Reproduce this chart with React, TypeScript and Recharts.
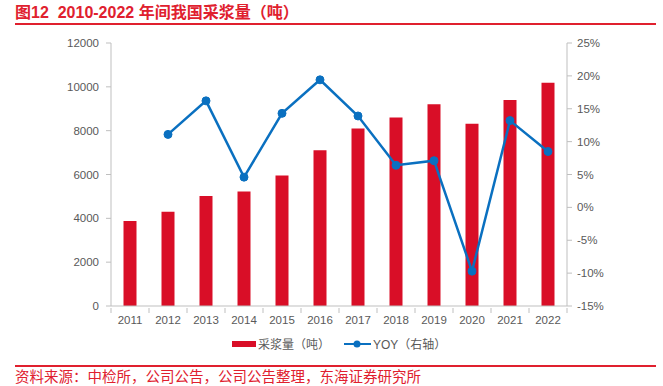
import React from "react";
import { ComposedChart, Bar, Line, XAxis, YAxis, Legend } from "recharts";

const years = ["2011", "2012", "2013", "2014", "2015", "2016", "2017", "2018", "2019", "2020", "2021", "2022"];
const volume = [3880, 4300, 5020, 5230, 5960, 7110, 8100, 8600, 9200, 8310, 9400, 10190];
const yoy: (number | null)[] = [null, 11.1, 16.2, 4.6, 14.3, 19.4, 13.9, 6.4, 7.1, -9.7, 13.2, 8.5];
const leftTicks = [0, 2000, 4000, 6000, 8000, 10000, 12000];
const rightTicks = [-15, -10, -5, 0, 5, 10, 15, 20, 25];
const title = "图12  2010-2022 年间我国采浆量（吨）";
const source = "资料来源：中检所，公司公告，公司公告整理，东海证券研究所";
const barName = "采浆量（吨）";
const lineName = "YOY（右轴）";

const data = years.map((y, i) => ({ year: y, volume: volume[i], yoy: yoy[i] }));

const RED = "#d90e27";
const BLUE = "#0a70c0";
const AXIS = "#bfbfbf";
const TEXT = "#595959";
const FONT = "'Liberation Sans', Arial, 'Noto Sans CJK SC', sans-serif";

const PLOT_LEFT = 111;
const PLOT_RIGHT = 567;
const BAND = (PLOT_RIGHT - PLOT_LEFT) / years.length;

const XTick = (props: any) => {
  const { x, y, payload, index } = props;
  const isLast = index === years.length - 1;
  return (
    <g>
      <line x1={x - BAND / 2} y1={y - 6} x2={x - BAND / 2} y2={y - 1} stroke={AXIS} />
      {isLast && <line x1={x + BAND / 2} y1={y - 6} x2={x + BAND / 2} y2={y - 1} stroke={AXIS} />}
      <text x={x} y={y + 10} textAnchor="middle" fill={TEXT} fontSize={11.5} fontFamily={FONT}>
        {payload.value}
      </text>
    </g>
  );
};

const LegendContent = () => (
  <svg width={663} height={20} style={{ display: "block" }}>
    <rect x={232} y={7} width={24} height={6} fill={RED} />
    <text x={258} y={14.5} fill={TEXT} fontSize={12} fontFamily={FONT}>{barName}</text>
    <line x1={344} y1={10} x2={371} y2={10} stroke={BLUE} strokeWidth={2} />
    <circle cx={357} cy={10} r={3.5} fill={BLUE} />
    <text x={373} y={14.5} fill={TEXT} fontSize={12} fontFamily={FONT}>{lineName}</text>
  </svg>
);

export default function App() {
  return (
    <div style={{ position: "absolute", left: 0, top: 0, width: 663, height: 386, background: "#fff", fontFamily: FONT, overflow: "hidden" }}>
      <div style={{ position: "absolute", left: 15, top: 3, fontSize: 16, lineHeight: "20px", fontWeight: "bold", color: "#e0202e", fontFamily: FONT, whiteSpace: "pre" }}>
        {title}
      </div>
      <div style={{ position: "absolute", left: 15, top: 23, width: 641, height: 2, background: "#e0202e" }} />
      <div style={{ position: "absolute", left: 0, top: 0 }}>
        <ComposedChart
          width={663}
          height={360}
          data={data}
          margin={{ top: 43, right: 0, left: 0, bottom: 24 }}
          barCategoryGap={12.5}
        >
          <XAxis
            dataKey="year"
            height={30}
            stroke={AXIS}
            tickLine={false}
            tick={<XTick />}
            interval={0}
          />
          <YAxis
            yAxisId="left"
            width={PLOT_LEFT}
            domain={[0, 12000]}
            ticks={leftTicks}
            stroke={AXIS}
            tickSize={5}
            tickMargin={7}
            tick={{ fill: TEXT, fontSize: 11.5, fontFamily: FONT }}
            interval={0}
          />
          <YAxis
            yAxisId="right"
            orientation="right"
            width={663 - PLOT_RIGHT}
            domain={[-15, 25]}
            ticks={rightTicks}
            stroke={AXIS}
            tickSize={5}
            tickMargin={5}
            tickFormatter={(v: number) => `${v}%`}
            tick={{ fill: TEXT, fontSize: 11.5, fontFamily: FONT, textAnchor: "start" }}
            interval={0}
          />
          <Legend
            verticalAlign="middle"
            align="center"
            content={<LegendContent />}
            wrapperStyle={{ top: 334, left: 0, width: 663 }}
          />
          <Bar yAxisId="left" dataKey="volume" name={barName} fill={RED} isAnimationActive={false} />
          <Line
            yAxisId="right"
            dataKey="yoy"
            name={lineName}
            stroke={BLUE}
            strokeWidth={2.5}
            dot={{ r: 4, fill: BLUE, stroke: BLUE, strokeWidth: 1 }}
            connectNulls={false}
            isAnimationActive={false}
          />
        </ComposedChart>
      </div>
      <div style={{ position: "absolute", left: 15, top: 365, width: 641, height: 2, background: "#e0202e" }} />
      <div style={{ position: "absolute", left: 15, top: 369, fontSize: 14.5, lineHeight: "16px", color: "#e0202e", fontFamily: FONT, whiteSpace: "nowrap" }}>
        {source}
      </div>
    </div>
  );
}
